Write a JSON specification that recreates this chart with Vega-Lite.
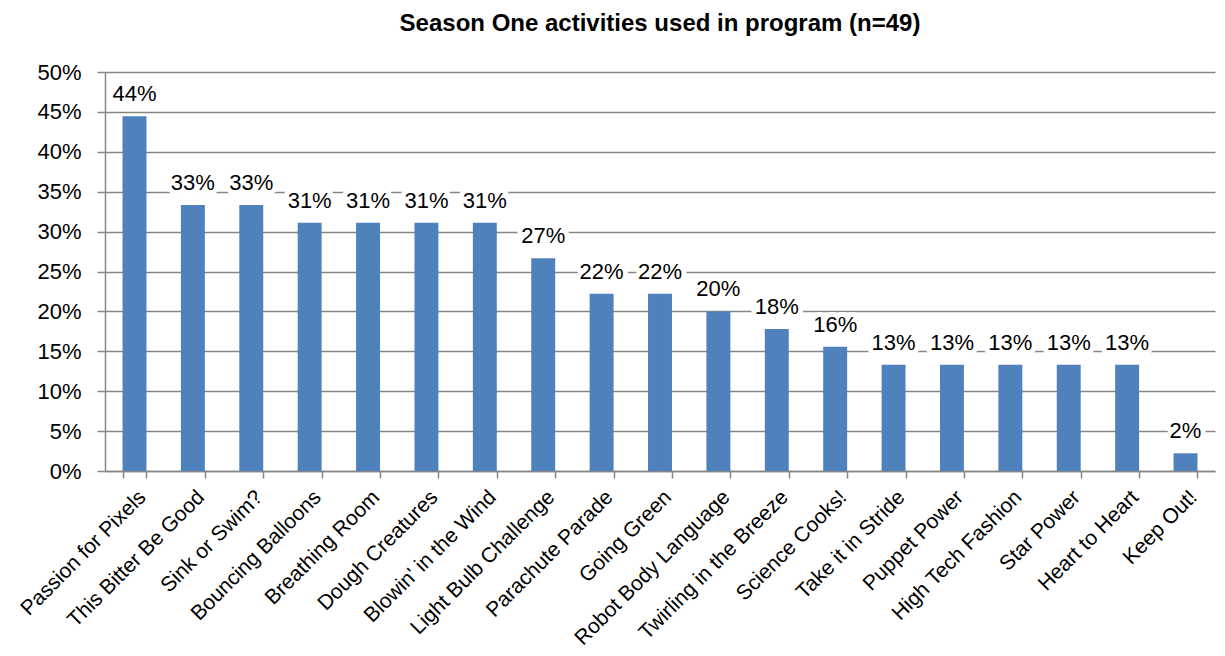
{
  "$schema": "https://vega.github.io/schema/vega-lite/v6.json",
  "autosize": {"type": "none"},
  "padding": {"left": 105, "top": 72, "right": 10, "bottom": 185},
  "width": 1110,
  "height": 399,
  "background": "white",
  "title": {
    "text": "Season One activities used in program (n=49)",
    "font": "Liberation Sans",
    "fontSize": 24,
    "fontWeight": "bold",
    "color": "#000000",
    "anchor": "middle",
    "offset": 25
  },
  "data": {
    "values": [
      {"activity": "Passion for Pixels", "pct": 0.4444},
      {"activity": "This Bitter Be Good", "pct": 0.3333},
      {"activity": "Sink or Swim?", "pct": 0.3333},
      {"activity": "Bouncing Balloons", "pct": 0.3111},
      {"activity": "Breathing Room", "pct": 0.3111},
      {"activity": "Dough Creatures", "pct": 0.3111},
      {"activity": "Blowin' in the Wind", "pct": 0.3111},
      {"activity": "Light Bulb Challenge", "pct": 0.2667},
      {"activity": "Parachute Parade", "pct": 0.2222},
      {"activity": "Going Green", "pct": 0.2222},
      {"activity": "Robot Body Language", "pct": 0.2},
      {"activity": "Twirling in the Breeze", "pct": 0.1778},
      {"activity": "Science Cooks!", "pct": 0.1556},
      {"activity": "Take it in Stride", "pct": 0.1333},
      {"activity": "Puppet Power", "pct": 0.1333},
      {"activity": "High Tech Fashion", "pct": 0.1333},
      {"activity": "Star Power", "pct": 0.1333},
      {"activity": "Heart to Heart", "pct": 0.1333},
      {"activity": "Keep Out!", "pct": 0.0222}
    ]
  },
  "encoding": {
    "x": {
      "field": "activity",
      "type": "nominal",
      "sort": null,
      "title": null,
      "scale": {"paddingInner": 0.59, "paddingOuter": 0.3},
      "axis": {
        "labelAngle": -45,
        "labelFont": "Liberation Sans",
        "labelFontSize": 21,
        "labelColor": "#000000",
        "labelPadding": 8,
        "labelLimit": 400,
        "domainColor": "#868686",
        "domainWidth": 1.5,
        "tickColor": "#868686",
        "tickSize": 7,
        "tickWidth": 1.5,
        "tickBand": "extent",
        "grid": false
      }
    },
    "y": {
      "field": "pct",
      "type": "quantitative",
      "title": null,
      "scale": {"domain": [0, 0.5]},
      "axis": {
        "format": ".0%",
        "values": [0, 0.05, 0.1, 0.15, 0.2, 0.25, 0.3, 0.35, 0.4, 0.45, 0.5],
        "labelFont": "Liberation Sans",
        "labelFontSize": 22,
        "labelColor": "#000000",
        "labelPadding": 16,
        "domainColor": "#868686",
        "domainWidth": 1.5,
        "tickColor": "#868686",
        "tickSize": 8,
        "tickWidth": 1.5,
        "grid": true,
        "gridColor": "#868686",
        "gridWidth": 1.5
      }
    }
  },
  "layer": [
    {"mark": {"type": "bar", "color": "#4F81BD"}},
    {
      "mark": {
        "type": "text",
        "font": "Liberation Sans",
        "fontSize": 22,
        "color": "#000000",
        "baseline": "bottom",
        "dy": -10,
        "stroke": "white",
        "strokeWidth": 10,
        "strokeJoin": "round"
      },
      "encoding": {
        "text": {"field": "pct", "type": "quantitative", "format": ".0%"}
      }
    },
    {
      "mark": {
        "type": "text",
        "font": "Liberation Sans",
        "fontSize": 22,
        "color": "#000000",
        "baseline": "bottom",
        "dy": -10
      },
      "encoding": {
        "text": {"field": "pct", "type": "quantitative", "format": ".0%"}
      }
    }
  ],
  "config": {"view": {"stroke": null}}
}
